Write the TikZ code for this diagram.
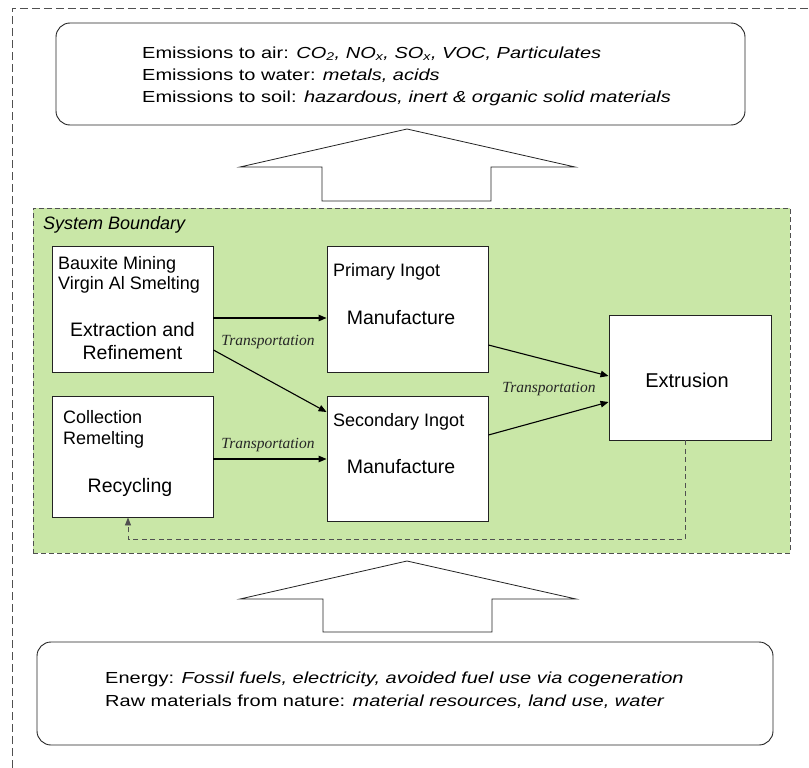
\documentclass[tikz,border=0pt]{standalone}
\usepackage{fontspec}
\usepackage{graphicx}
\setmainfont{Liberation Sans}
\newfontfamily\trfont{Liberation Serif}
\usetikzlibrary{arrows.meta}
\definecolor{sysgreen}{RGB}{201,231,167}
\definecolor{edgec}{RGB}{35,35,35}
\definecolor{dashc}{RGB}{80,80,80}
\begin{document}
\begin{tikzpicture}[x=1pt,y=-1pt,
  procbox/.style={draw=edgec, line width=0.9pt, fill=white, inner sep=0pt},
  roundbox/.style={draw=edgec, line width=0.9pt, fill=white, inner sep=0pt, rounded corners=14pt},
  flow/.style={draw=black, line width=1.1pt, -{Triangle[length=8pt,width=6.5pt]}},
  trlabel/.style={font=\trfont\itshape\fontsize{15.5}{18}\selectfont, text=black!85, inner sep=0pt},
  small/.style={font=\fontsize{18}{20.5}\selectfont, inner sep=0pt, align=left},
  big/.style={font=\fontsize{19.5}{23}\selectfont, inner sep=0pt, align=center},
  bigarrow/.style={draw=edgec, line width=0.8pt, fill=white, line join=miter}]
\useasboundingbox (0,0) rectangle (809,768);
% outer frame
\draw[dashc, line width=0.8pt, dash pattern=on 8pt off 4pt] (12,768) -- (12,8) -- (809,8);
% top emissions box
\node[roundbox, minimum width=689pt, minimum height=102pt] (emis) at (400.5,74) {};
\node[anchor=west, inner sep=0pt] (emistext) at (142,76) {\scalebox{1.25}[1]{\fontsize{16}{22}\selectfont
  \begin{tabular}{@{}l@{}}
  Emissions to air: \textit{CO\textsubscript{2}, NO\textsubscript{x}, SO\textsubscript{x}, VOC, Particulates}\\
  Emissions to water: \textit{metals, acids}\\
  Emissions to soil: \textit{hazardous, inert \& organic solid materials}
  \end{tabular}}};
% top big arrow
\draw[bigarrow] (322,201) -- (322,167) -- (240,167) -- (407,129) -- (575,167) -- (491,167) -- (491,201) -- cycle;
% system boundary
\node[draw=dashc, line width=0.8pt, dash pattern=on 5pt off 3pt, fill=sysgreen, inner sep=0pt,
      minimum width=757pt, minimum height=345pt] (sys) at (411.5,380.5) {};
\node[anchor=west, inner sep=0pt, font=\itshape\fontsize{18}{20}\selectfont] (syslabel) at (43,225) {System Boundary};
% process boxes
\node[procbox, minimum width=161pt, minimum height=126pt] (ext) at (132.5,309) {};
\node[procbox, minimum width=161pt, minimum height=126pt] (prim) at (407.5,309) {};
\node[procbox, minimum width=161pt, minimum height=121pt] (rec) at (132.5,456.5) {};
\node[procbox, minimum width=161pt, minimum height=125pt] (sec) at (407.5,458.5) {};
\node[procbox, minimum width=162pt, minimum height=125pt] (extr) at (690,377.5) {};
% box texts
\node[small, anchor=west] (extsub) at (58,275) {Bauxite Mining\\Virgin Al Smelting};
\node[big] (extname) at (132.5,341.5) {Extraction and\\Refinement};
\node[small, anchor=west] (primsub) at (333,272) {Primary Ingot};
\node[big] (primname) at (401,318) {Manufacture};
\node[small, anchor=west] (recsub) at (63,429.5) {Collection\\Remelting};
\node[big] (recname) at (130,487) {Recycling};
\node[small, anchor=west] (secsub) at (333,422) {Secondary Ingot};
\node[big] (secname) at (401,467) {Manufacture};
\node[big, font=\fontsize{20}{23}\selectfont] (extrname) at (687,380) {Extrusion};
% connectors
\draw[flow] ([yshift=-9pt]ext.east) -- ([yshift=-9pt]ext.east -| prim.west);
\draw[flow] ([yshift=-41pt]ext.east) -- ([yshift=46.5pt]sec.west);
\draw[flow] ([yshift=-2.5pt]rec.east) -- ([yshift=-2.5pt]rec.east -| sec.west);
\draw[flow] ([yshift=-36pt]prim.east) -- ([yshift=1.5pt]extr.west);
\draw[flow] ([yshift=23.5pt]sec.east) -- ([yshift=-24.5pt]extr.west);
\draw[dashc, line width=0.9pt, dash pattern=on 5pt off 3.5pt, -{Triangle[length=8pt,width=6pt]}]
  ([xshift=-5pt]extr.south) -- ++(0,99) coordinate (fb) -| ([xshift=-4.5pt]rec.south);
% transportation labels
\node[trlabel] (tr1) at (268,342) {Transportation};
\node[trlabel] (tr2) at (268,445) {Transportation};
\node[trlabel] (tr3) at (549,389) {Transportation};
% bottom big arrow
\draw[bigarrow] (323,632) -- (323,599) -- (240,599) -- (407,561) -- (576,599) -- (492,599) -- (492,632) -- cycle;
% bottom inputs box
\node[roundbox, minimum width=736pt, minimum height=103pt] (inputs) at (405,693.5) {};
\node[anchor=west, inner sep=0pt] (inputstext) at (105,690.5) {\scalebox{1.25}[1]{\fontsize{16}{23}\selectfont
  \begin{tabular}{@{}l@{}}
  Energy: \textit{Fossil fuels, electricity, avoided fuel use via cogeneration}\\
  Raw materials from nature: \textit{material resources, land use, water}
  \end{tabular}}};
\end{tikzpicture}
\end{document}
